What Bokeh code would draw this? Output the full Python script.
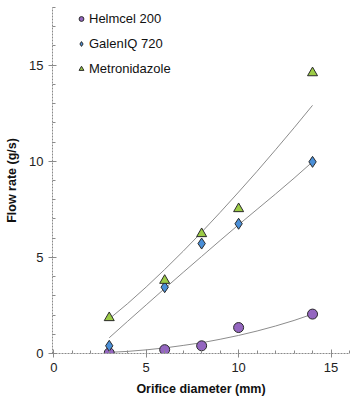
from bokeh.plotting import figure
from bokeh.models import Legend, LegendItem, SingleIntervalTicker, Range1d
from bokeh.embed import file_html
from bokeh.resources import INLINE

# Measured data
diam = [3, 6, 8, 10, 14]
helmcel = [0.03, 0.2, 0.4, 1.35, 2.05]
galeniq = [0.4, 3.45, 5.72, 6.75, 9.97]
metro = [1.86, 3.8, 6.23, 7.53, 14.6]

# Fitted trend curves
fit_x = [3, 4, 5, 6, 7, 8, 9, 10, 11, 12, 13, 14]
fit_helmcel = [0.06, 0.11, 0.19, 0.29, 0.42, 0.56, 0.74, 0.94, 1.17, 1.43, 1.72, 2.05]
fit_galeniq = [0.82, 1.68, 2.53, 3.38, 4.22, 5.05, 5.88, 6.70, 7.50, 8.30, 9.12, 9.97]
fit_metro = [1.80, 2.60, 3.46, 4.37, 5.32, 6.31, 7.34, 8.40, 9.48, 10.60, 11.74, 12.91]

series_names = ["Helmcel 200", "GalenIQ 720", "Metronidazole"]
x_label = "Orifice diameter (mm)"
y_label = "Flow rate (g/s)"

FONT = "Liberation Sans"
NAN = float("nan")

p = figure(width=352, height=401, output_backend="svg", toolbar_location=None,
           x_range=Range1d(-0.07, 16.0), y_range=Range1d(0, 18.0),
           min_border_left=52, min_border_right=3, min_border_top=7, min_border_bottom=48)
p.outline_line_color = None
p.grid.grid_line_color = None
p.background_fill_color = "white"
p.border_fill_color = "white"

for ax in (p.xaxis[0], p.yaxis[0]):
    ax.axis_line_color = "#8a8a8a"
    ax.axis_line_dash = "2 1"
    ax.major_tick_line_color = "#8a8a8a"
    ax.minor_tick_line_color = "#8a8a8a"
    ax.major_tick_in = 4
    ax.major_tick_out = 4
    ax.minor_tick_in = 3
    ax.minor_tick_out = 0
    ax.major_label_text_font = FONT
    ax.major_label_text_font_size = "13px"
    ax.major_label_text_color = "#222222"
    ax.axis_label_text_font = FONT
    ax.axis_label_text_font_size = "12.5px"
    ax.axis_label_text_font_style = "bold"
    ax.axis_label_text_color = "#111111"

p.xaxis.ticker = SingleIntervalTicker(interval=5, num_minor_ticks=5)
p.yaxis.ticker = SingleIntervalTicker(interval=5, num_minor_ticks=5)
p.xaxis.axis_label = x_label
p.yaxis.axis_label = y_label
p.xaxis.major_label_standoff = 5
p.yaxis.major_label_standoff = 5
p.xaxis.axis_label_standoff = 7
p.yaxis.axis_label_standoff = 7

line_col = "#8c8c8c"
p.line(fit_x, fit_helmcel, line_color=line_col, line_width=1)
p.line(fit_x, fit_galeniq, line_color=line_col, line_width=1)
p.line(fit_x, fit_metro, line_color=line_col, line_width=1)

c_h = "#9466c0"
c_g = "#4a8fd8"
c_m = "#9ccc45"
edge = "#2a2a2a"

p.scatter(diam, helmcel, marker="circle", size=10, fill_color=c_h, line_color=edge, line_width=1)
p.scatter(diam, galeniq, marker="diamond", size=11, fill_color=c_g, line_color=edge, line_width=1)
p.scatter(diam, metro, marker="triangle", size=10, fill_color=c_m, line_color=edge, line_width=1)

# legend-only renderers (smaller symbols, no visible data)
lh = p.scatter([NAN], [NAN], marker="circle", size=7, fill_color=c_h, line_color=edge, line_width=1)
lg = p.scatter([NAN], [NAN], marker="diamond", size=8, fill_color=c_g, line_color=edge, line_width=1)
lm = p.scatter([NAN], [NAN], marker="triangle", size=8, fill_color=c_m, line_color=edge, line_width=1)

legend = Legend(items=[LegendItem(label=series_names[0], renderers=[lh], index=0),
                       LegendItem(label=series_names[1], renderers=[lg], index=0),
                       LegendItem(label=series_names[2], renderers=[lm], index=0)],
                location=(23, 274), padding=0, margin=0, spacing=4,
                glyph_width=12, glyph_height=21, label_height=21, label_standoff=2,
                label_text_font=FONT, label_text_font_size="13px", label_text_color="#111111",
                background_fill_alpha=0, border_line_color=None)
p.add_layout(legend)

open("out.html", "w").write(file_html(p, INLINE))
